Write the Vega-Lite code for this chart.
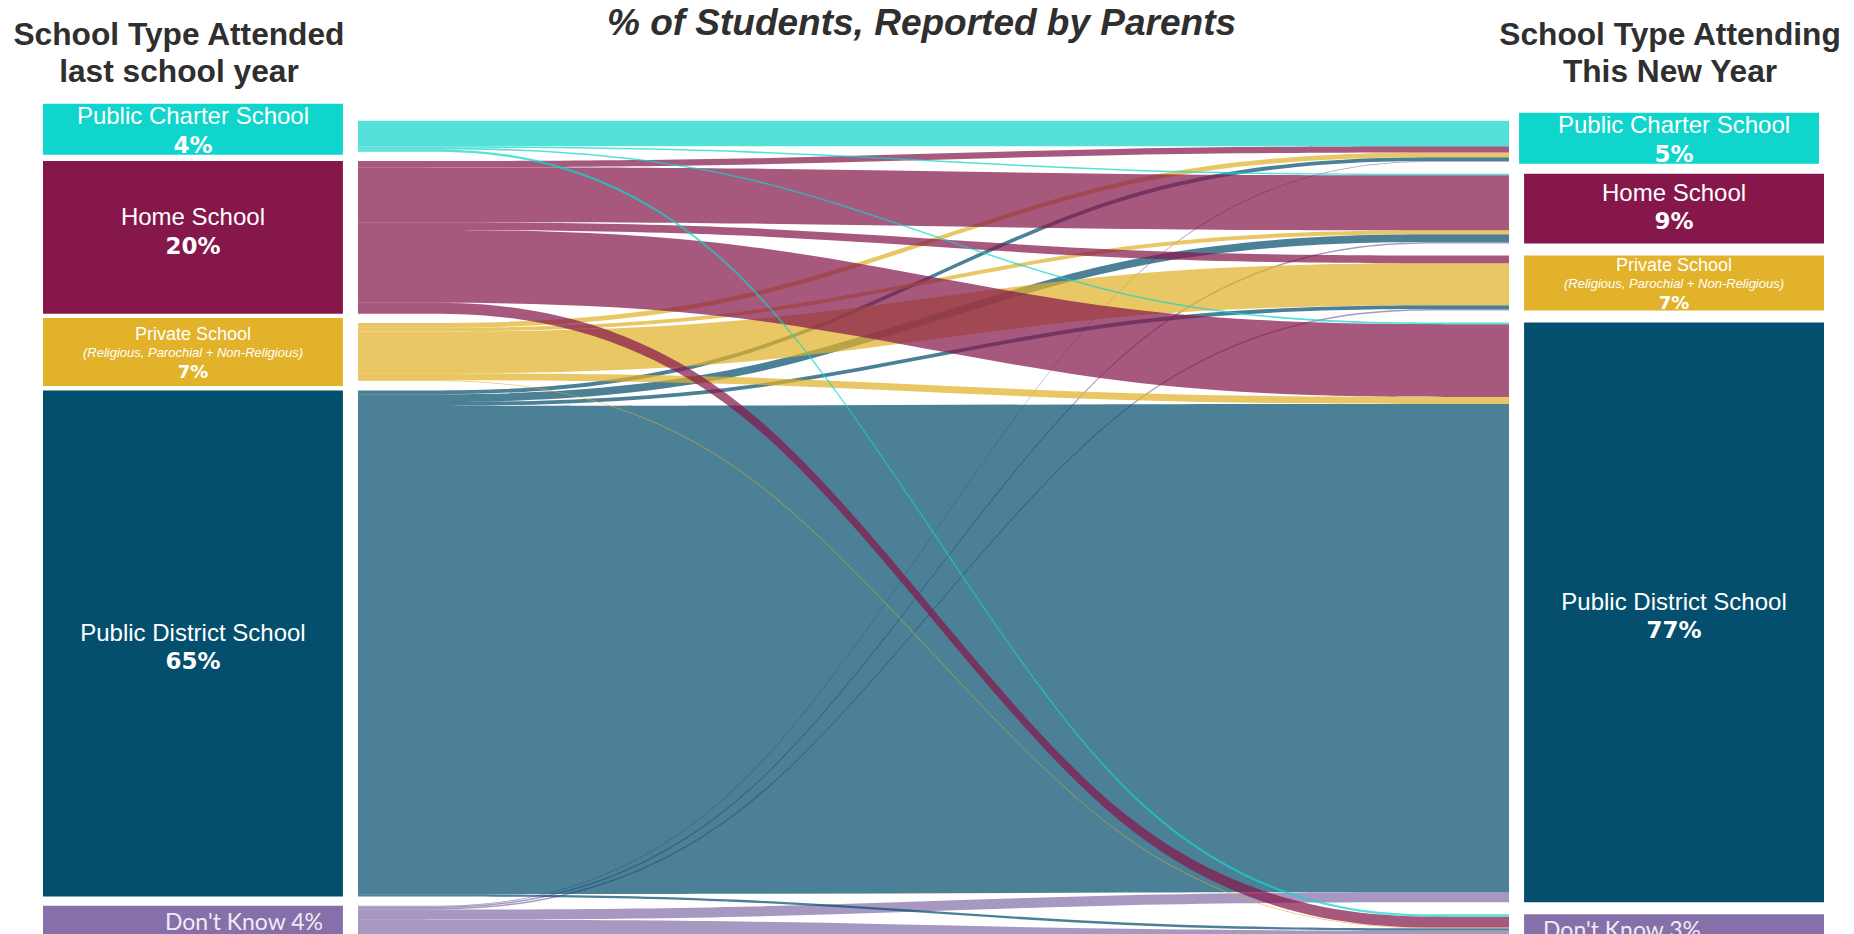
{
  "$schema": "https://vega.github.io/schema/vega-lite/v6.json",
  "width": 1854,
  "height": 934,
  "padding": 0,
  "autosize": {"type": "fit", "contains": "padding"},
  "background": "#ffffff",
  "config": {"view": {"stroke": null}},
  "datasets": {
    "links": [
      {"s": "Don't Know", "t": "Don't Know", "v": 2.0},
      {"s": "Don't Know", "t": "Public District School", "v": 1.3},
      {"s": "Don't Know", "t": "Home School", "v": 0.2},
      {"s": "Don't Know", "t": "Private School", "v": 0.2},
      {"s": "Don't Know", "t": "Public Charter School", "v": 0.1},
      {"s": "Public District School", "t": "Public District School", "v": 63.0},
      {"s": "Public District School", "t": "Home School", "v": 1.0},
      {"s": "Public District School", "t": "Public Charter School", "v": 0.5},
      {"s": "Public District School", "t": "Private School", "v": 0.5},
      {"s": "Public District School", "t": "Don't Know", "v": 0.3},
      {"s": "Private School", "t": "Private School", "v": 5.4},
      {"s": "Private School", "t": "Public District School", "v": 0.9},
      {"s": "Private School", "t": "Public Charter School", "v": 0.6},
      {"s": "Private School", "t": "Home School", "v": 0.5},
      {"s": "Private School", "t": "Don't Know", "v": 0.1},
      {"s": "Home School", "t": "Public District School", "v": 9.4},
      {"s": "Home School", "t": "Home School", "v": 7.1},
      {"s": "Home School", "t": "Don't Know", "v": 1.4},
      {"s": "Home School", "t": "Private School", "v": 1.0},
      {"s": "Home School", "t": "Public Charter School", "v": 0.8},
      {"s": "Public Charter School", "t": "Public Charter School", "v": 3.3},
      {"s": "Public Charter School", "t": "Don't Know", "v": 0.3},
      {"s": "Public Charter School", "t": "Home School", "v": 0.2},
      {"s": "Public Charter School", "t": "Public District School", "v": 0.2}
    ],
    "nodes": [
      {"name": "Public Charter School", "idx": 0, "pct_s": "4%", "pct_t": "5%"},
      {"name": "Home School", "idx": 1, "pct_s": "20%", "pct_t": "9%"},
      {"name": "Private School", "idx": 2, "pct_s": "7%", "pct_t": "7%", "sub": "(Religious, Parochial + Non-Religious)"},
      {"name": "Public District School", "idx": 3, "pct_s": "65%", "pct_t": "77%"},
      {"name": "Don't Know", "idx": 4, "pct_s": "4%", "pct_t": "3%"}
    ],
    "coltitles": [
      {"side": "s", "text": "School Type Attended\nlast school year"},
      {"side": "t", "text": "School Type Attending\nThis New Year"}
    ],
    "maintitle": [
      {"side": "mid", "text": "% of Students, Reported by Parents"}
    ]
  },
  "resolve": {"scale": {"x": "independent"}},
  "layer": [
    {
      "data": {"name": "links"},
      "transform": [
        {"lookup": "s", "from": {"data": {"name": "nodes"}, "key": "name", "fields": ["idx"]}, "as": ["si"]},
        {"lookup": "t", "from": {"data": {"name": "nodes"}, "key": "name", "fields": ["idx"]}, "as": ["ti"]},
        {"stack": "v", "groupby": [], "sort": [{"field": "si", "order": "ascending"}, {"field": "ti", "order": "ascending"}], "as": ["a0", "a1"]},
        {"stack": "v", "groupby": [], "sort": [{"field": "ti", "order": "ascending"}, {"field": "si", "order": "ascending"}], "as": ["b0", "b1"]},
        {"calculate": "datum.a0 + datum.si * 1.2", "as": "p0"},
        {"calculate": "datum.p0", "as": "p1"},
        {"calculate": "datum.b0 + datum.ti * 1.55", "as": "p2"},
        {"calculate": "datum.p2", "as": "p3"},
        {"fold": ["p0", "p1", "p2", "p3"], "as": ["k", "top"]},
        {"calculate": "datum.top + datum.v", "as": "bot"}
      ],
      "mark": {"type": "area", "interpolate": "basis", "opacity": 0.72, "clip": true},
      "encoding": {
        "x": {"field": "k", "type": "ordinal", "scale": {"type": "point", "domain": ["p0", "p1", "p2", "p3"], "range": [358, 1509], "padding": 0}, "axis": null},
        "y": {"field": "top", "type": "quantitative", "stack": null, "scale": {"domain": [-15.574, 104.94], "nice": false, "zero": false, "reverse": true}, "axis": null},
        "y2": {"field": "bot"},
        "color": {"field": "s", "type": "nominal", "scale": {"domain": ["Public Charter School", "Home School", "Private School", "Public District School", "Don't Know"], "range": ["#10D5CC", "#85174B", "#E2B22A", "#054F6E", "#8570A9"]}, "legend": null},
        "detail": {"field": "t"}
      }
    },
    {
      "layer": [
        {
          "data": {"name": "links"},
          "transform": [
            {"fold": ["s", "t"], "as": ["side", "name"]},
            {"aggregate": [{"op": "sum", "field": "v", "as": "total"}], "groupby": ["side", "name"]},
            {"lookup": "name", "from": {"data": {"name": "nodes"}, "key": "name", "fields": ["idx", "pct_s", "pct_t", "sub"]}},
            {"stack": "total", "groupby": ["side"], "sort": [{"field": "idx", "order": "ascending"}], "as": ["n0", "n1"]},
            {"calculate": "datum.side == 's' ? 1.2 : 1.55", "as": "gap"},
            {"calculate": "datum.n0 + datum.idx * datum.gap", "as": "top"},
            {"calculate": "datum.n1 + datum.idx * datum.gap", "as": "bot"},
            {"calculate": "(datum.top + datum.bot) / 2", "as": "mid"},
            {"calculate": "datum.side == 's' ? datum.pct_s : datum.pct_t", "as": "pct"},
            {"calculate": "datum.name + ' ' + datum.pct", "as": "dklabel"}
          ],
          "encoding": {
            "x": {"field": "side", "type": "nominal", "scale": {"type": "band", "domain": ["s", "mid", "t"], "range": [43, 1824], "paddingInner": 0.595, "paddingOuter": 0}, "axis": null}
          },
          "layer": [
            {
              "transform": [{"filter": "datum.idx == 0 && datum.side == 's'"}],
              "mark": {"type": "rect", "yOffset": -17, "y2Offset": 3},
              "encoding": {
                "y": {"field": "top", "type": "quantitative"},
                "y2": {"field": "bot"},
                "color": {"field": "name", "type": "nominal", "legend": null}
              }
            },
            {
              "transform": [{"filter": "datum.idx == 0 && datum.side == 't'"}],
              "mark": {"type": "rect", "yOffset": -8, "y2Offset": 2, "xOffset": -5},
              "encoding": {
                "y": {"field": "top", "type": "quantitative"},
                "y2": {"field": "bot"},
                "color": {"field": "name", "type": "nominal", "legend": null}
              }
            },
            {
              "transform": [{"filter": "datum.idx == 2 && datum.side == 's'"}],
              "mark": {"type": "rect", "yOffset": -5, "y2Offset": 5},
              "encoding": {
                "y": {"field": "top", "type": "quantitative"},
                "y2": {"field": "bot"},
                "color": {"field": "name", "type": "nominal", "legend": null}
              }
            },
            {
              "transform": [{"filter": "datum.idx != 0 && !(datum.idx == 2 && datum.side == 's')"}],
              "mark": {"type": "rect", "clip": true},
              "encoding": {
                "y": {"field": "top", "type": "quantitative"},
                "y2": {"field": "bot"},
                "color": {"field": "name", "type": "nominal", "legend": null}
              }
            },
            {
              "transform": [{"filter": "datum.idx == 0 || datum.idx == 1 || datum.idx == 3"}],
              "mark": {"type": "text", "font": "Liberation Sans", "fontSize": 24, "color": "#ffffff", "align": "center", "baseline": "alphabetic",
                "dy": {"expr": "datum.idx == 3 ? -2 : (datum.side == 's' ? -12 : -8)"}},
              "encoding": {
                "y": {"field": "mid", "type": "quantitative"},
                "text": {"field": "name"}
              }
            },
            {
              "transform": [{"filter": "datum.idx == 0 || datum.idx == 1 || datum.idx == 3"}],
              "mark": {"type": "text", "font": "DejaVu Sans", "fontWeight": "bold", "fontSize": 23, "color": "#ffffff", "align": "center", "baseline": "alphabetic",
                "dy": {"expr": "datum.idx == 3 ? 26 : (datum.side == 's' ? 17 : 20.5)"}},
              "encoding": {
                "y": {"field": "mid", "type": "quantitative"},
                "text": {"field": "pct"}
              }
            },
            {
              "transform": [{"filter": "datum.idx == 2"}],
              "mark": {"type": "text", "font": "Liberation Sans", "fontSize": 18, "color": "#ffffff", "align": "center", "baseline": "alphabetic", "dy": -12},
              "encoding": {
                "y": {"field": "mid", "type": "quantitative"},
                "text": {"field": "name"}
              }
            },
            {
              "transform": [{"filter": "datum.idx == 2"}],
              "mark": {"type": "text", "font": "Liberation Sans", "fontStyle": "italic", "fontSize": 13, "color": "#ffffff", "align": "center", "baseline": "alphabetic", "dy": 5},
              "encoding": {
                "y": {"field": "mid", "type": "quantitative"},
                "text": {"field": "sub"}
              }
            },
            {
              "transform": [{"filter": "datum.idx == 2"}],
              "mark": {"type": "text", "font": "DejaVu Sans", "fontWeight": "bold", "fontSize": 18, "color": "#ffffff", "align": "center", "baseline": "alphabetic", "dy": 26},
              "encoding": {
                "y": {"field": "mid", "type": "quantitative"},
                "text": {"field": "pct"}
              }
            },
            {
              "transform": [{"filter": "datum.idx == 4 && datum.side == 's'"}],
              "mark": {"type": "text", "font": "Lato", "fontSize": 23, "color": "#F1EAF6", "align": "right", "baseline": "alphabetic", "dx": 130, "dy": 24, "clip": true},
              "encoding": {
                "y": {"field": "top", "type": "quantitative"},
                "text": {"field": "dklabel"}
              }
            },
            {
              "transform": [{"filter": "datum.idx == 4 && datum.side == 't'"}],
              "mark": {"type": "text", "font": "Lato", "fontSize": 23, "color": "#F1EAF6", "align": "left", "baseline": "alphabetic", "dx": -131, "dy": 24, "clip": true},
              "encoding": {
                "y": {"field": "top", "type": "quantitative"},
                "text": {"field": "dklabel"}
              }
            }
          ]
        },
        {
          "data": {"name": "coltitles"},
          "mark": {"type": "text", "font": "Liberation Sans", "fontWeight": "bold", "fontSize": 31.7, "color": "#2F2F2F", "align": "center", "baseline": "alphabetic", "lineBreak": "\n", "lineHeight": 36.7,
            "dx": {"expr": "datum.side == 's' ? -14 : -4"}},
          "encoding": {
            "x": {"field": "side", "type": "nominal", "scale": {"type": "band", "domain": ["s", "mid", "t"], "range": [43, 1824], "paddingInner": 0.595, "paddingOuter": 0}, "axis": null},
            "y": {"datum": -9.77, "type": "quantitative"},
            "text": {"field": "text"}
          }
        },
        {
          "data": {"name": "maintitle"},
          "mark": {"type": "text", "font": "Liberation Sans", "fontWeight": "bold", "fontStyle": "italic", "fontSize": 37, "color": "#2F2F2F", "align": "center", "baseline": "alphabetic", "dx": -12},
          "encoding": {
            "x": {"field": "side", "type": "nominal", "scale": {"type": "band", "domain": ["s", "mid", "t"], "range": [43, 1824], "paddingInner": 0.595, "paddingOuter": 0}, "axis": null},
            "y": {"datum": -11.0, "type": "quantitative"},
            "text": {"field": "text"}
          }
        }
      ]
    }
  ]
}
